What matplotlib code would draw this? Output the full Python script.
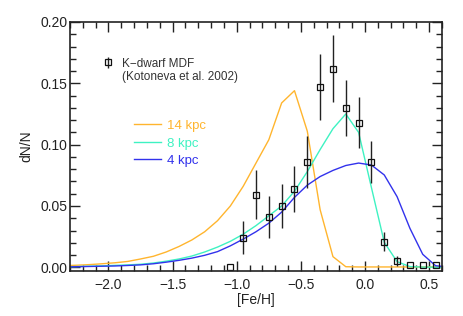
import matplotlib
matplotlib.use('Agg')
import matplotlib.pyplot as plt
from matplotlib.ticker import MultipleLocator

# model curves, bin centres in [Fe/H]
feh_model = [-2.35, -2.25, -2.15, -2.05, -1.95, -1.85, -1.75, -1.65, -1.55, -1.45,
             -1.35, -1.25, -1.15, -1.05, -0.95, -0.85, -0.75, -0.65, -0.55, -0.45,
             -0.35, -0.25, -0.15, -0.05, 0.05, 0.15, 0.25, 0.35, 0.45, 0.55, 0.65]
mdf_14kpc = [0.0013, 0.0017, 0.0022, 0.0029, 0.0037, 0.0048, 0.0068, 0.0090, 0.0125, 0.0170,
             0.0223, 0.029, 0.038, 0.050, 0.066, 0.085, 0.104, 0.134, 0.144, 0.111,
             0.047, 0.0087, 0.0005, 0.0003, 0.0003, 0.0003, 0.0003, 0.0003, 0.0003, 0.0003, 0.0003]
mdf_8kpc = [0.0004, 0.0006, 0.0009, 0.0012, 0.0016, 0.0020, 0.0025, 0.0035, 0.0050, 0.0068,
            0.0092, 0.0125, 0.0165, 0.0212, 0.027, 0.034, 0.042, 0.050, 0.062, 0.078,
            0.096, 0.113, 0.125, 0.110, 0.065, 0.0204, 0.0046, 0.0006, 0.0002, 0.0001, 0.0]
mdf_4kpc = [0.0003, 0.0005, 0.0007, 0.0009, 0.0011, 0.0015, 0.0020, 0.0029, 0.0042, 0.0057,
            0.0075, 0.0098, 0.0128, 0.0175, 0.023, 0.029, 0.036, 0.045, 0.057, 0.067,
            0.074, 0.079, 0.083, 0.085, 0.0834, 0.0753, 0.0576, 0.0318, 0.0106, 0.0013, 0.0003]

# K-dwarf MDF (Kotoneva et al. 2002)
feh_obs = [-1.05, -0.95, -0.85, -0.75, -0.65, -0.55, -0.45, -0.35, -0.25,
           -0.15, -0.05, 0.05, 0.15, 0.25, 0.35, 0.45, 0.55]
mdf_obs = [0.0005, 0.024, 0.059, 0.041, 0.050, 0.064, 0.086, 0.147, 0.162,
           0.130, 0.118, 0.086, 0.021, 0.005, 0.002, 0.002, 0.0015]
err_obs = [0.0, 0.0135, 0.020, 0.017, 0.018, 0.019, 0.021, 0.027, 0.027,
           0.023, 0.021, 0.017, 0.008, 0.004, 0.0, 0.0, 0.0]

c14 = '#FFB52E'
c8 = '#3EF2C2'
c4 = '#3232EC'
txt = '#222222'

plt.rcParams['font.family'] = ['Liberation Sans', 'DejaVu Sans']
plt.rcParams['font.size'] = 10

fig = plt.figure(figsize=(4.63, 3.16), dpi=100)
ax = fig.add_axes([0.1512, 0.1424, 0.8034, 0.788])

l14, = ax.plot(feh_model, mdf_14kpc, color=c14, lw=1.0, label='14 kpc')
l8, = ax.plot(feh_model, mdf_8kpc, color=c8, lw=1.0, label='8 kpc')
l4, = ax.plot(feh_model, mdf_4kpc, color=c4, lw=1.0, label='4 kpc')

obs = ax.errorbar(feh_obs, mdf_obs, yerr=err_obs, fmt='s', ms=5, mfc='none', mec='#111111',
                  mew=0.9, ecolor='#222222', elinewidth=1.0, capsize=0, label='K\u2212dwarf MDF')

ax.set_xlim(-2.3, 0.6)
ax.set_ylim(-0.003, 0.2)
ax.xaxis.set_major_locator(MultipleLocator(0.5))
ax.xaxis.set_minor_locator(MultipleLocator(0.1))
ax.yaxis.set_major_locator(MultipleLocator(0.05))
ax.yaxis.set_minor_locator(MultipleLocator(0.01))
ax.xaxis.set_major_formatter(plt.FuncFormatter(lambda v, p: ('%.1f' % v).replace('-', '\u2212')))
ax.yaxis.set_major_formatter(plt.FuncFormatter(lambda v, p: '%.2f' % v))
ax.tick_params(which='both', direction='in', top=True, right=True, colors=txt, labelcolor=txt)
ax.tick_params(which='major', length=7, width=1.0)
ax.tick_params(which='minor', length=4, width=1.0)
ax.tick_params(axis='x', which='major', pad=5)
ax.tick_params(axis='y', which='major', pad=2)
for s in ax.spines.values():
    s.set_linewidth(1.2)
    s.set_color(txt)

ax.set_xlabel('[Fe/H]', color=txt, labelpad=1)
ax.set_ylabel('dN/N', color=txt, labelpad=5)

leg1 = ax.legend([obs], ['K\u2212dwarf MDF'], loc='upper left', bbox_to_anchor=(0.0895, 0.857),
                 frameon=False, borderpad=0, borderaxespad=0, handlelength=0.8,
                 handletextpad=0.79, fontsize=8.5)
for t in leg1.get_texts():
    t.set_color('#333333')
ax.add_artist(leg1)
ax.text(0.140, 0.781, '(Kotoneva et al. 2002)', transform=ax.transAxes, va='center',
        ha='left', fontsize=8.5, color='#333333')

leg2 = ax.legend([l14, l8, l4], ['14 kpc', '8 kpc', '4 kpc'], loc='upper left',
                 bbox_to_anchor=(0.172, 0.607), frameon=False, borderpad=0, borderaxespad=0,
                 handlelength=2.05, handletextpad=0.45, labelspacing=0.4, fontsize=9.5)
for t, c in zip(leg2.get_texts(), [c14, c8, c4]):
    t.set_color(c)

fig.savefig('out.png', dpi=100)
